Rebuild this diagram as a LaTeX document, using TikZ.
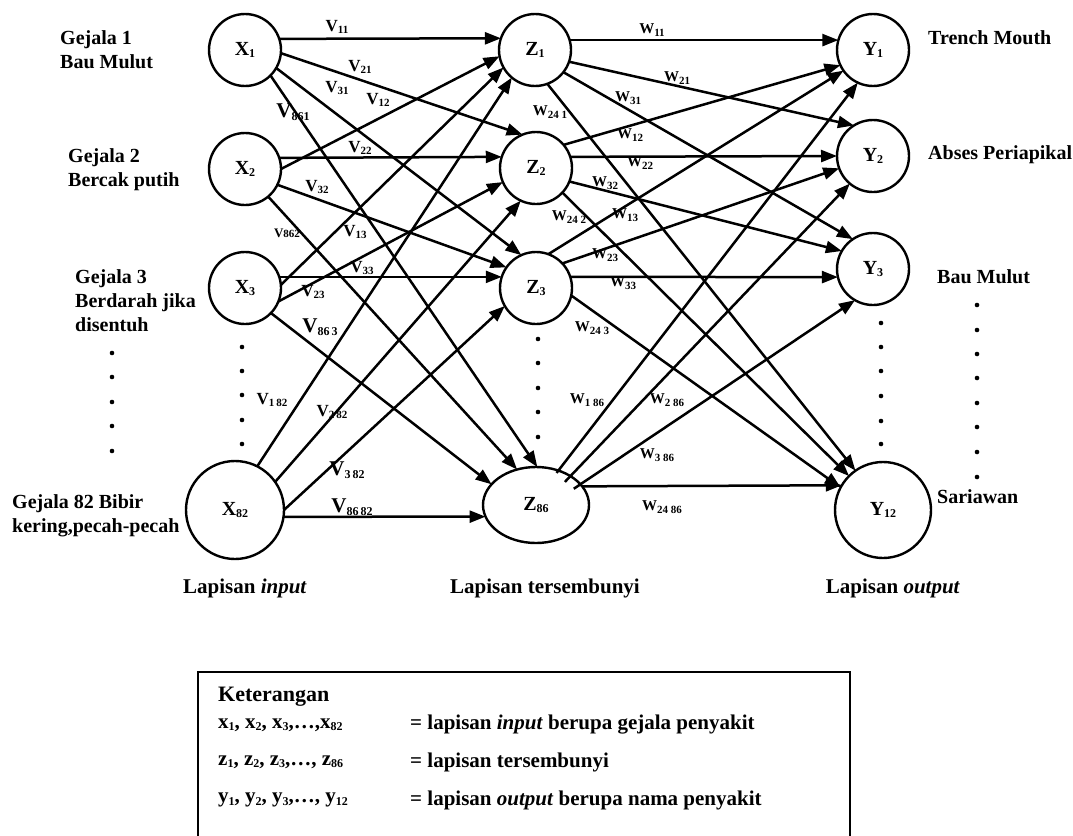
\documentclass[tikz,border=0pt]{standalone}
\usepackage{fontspec}
\setmainfont{Liberation Serif}
\usetikzlibrary{arrows.meta,shapes.geometric}

% font size helper and lowered subscript
\newcommand\fs[1]{\fontsize{#1}{#1}\selectfont}
\newcommand\sub[2][11]{\raisebox{-2.5pt}{\fs{#1}#2}}
% weight labels: small V, large V, W
\newcommand\sv[1]{{\fs{17}V}\sub{#1}}
\newcommand\bv[1]{{\fs{21}V}\sub[12]{#1}}
\newcommand\ww[1]{{\fs{15}W}\sub{#1}}

\begin{document}
\begin{tikzpicture}[x=1pt,y=-1pt,
  neuron/.style={circle,draw,line width=2.4pt,inner sep=0pt,outer sep=0pt,
                 minimum size=72pt,font=\bfseries\fs{20}},
  conn/.style={-{Triangle[length=16pt,width=12pt]},line width=2.5pt},
  wt/.style={inner sep=0pt,font=\bfseries},
  lbl/.style={inner sep=0pt,anchor=west,align=left,
              font=\bfseries\fontsize{20}{24}\selectfont},
  layer/.style={inner sep=0pt,font=\bfseries\fs{21}},
  leg/.style={inner sep=0pt,anchor=west,font=\bfseries\fs{21}},
  dot/.style={fill=black}]
\useasboundingbox (0,0) rectangle (1073,835);

% ---------- neurons ----------
\node[neuron] (x1) at (245,50) {X\sub[12]{1}};
\node[neuron] (x2) at (245,169) {X\sub[12]{2}};
\node[neuron] (x3) at (245,288) {X\sub[12]{3}};
\node[neuron,minimum size=98pt] (x82) at (235,510) {X\sub[12]{82}};

\node[neuron] (z1) at (535,50) {Z\sub[12]{1}};
\node[neuron] (z2) at (536,168) {Z\sub[12]{2}};
\node[neuron] (z3) at (536,288) {Z\sub[12]{3}};
\node[ellipse,draw,line width=2.4pt,inner sep=0pt,outer sep=0pt,
      minimum width=106pt,minimum height=76pt,font=\bfseries\fs{20}]
      (z86) at (536,505) {Z\sub[12]{86}};

\node[neuron] (y1) at (873,50) {Y\sub[12]{1}};
\node[neuron] (y2) at (873,156) {Y\sub[12]{2}};
\node[neuron] (y3) at (873,269) {Y\sub[12]{3}};
\node[neuron,minimum size=96pt] (y12) at (883,510) {Y\sub[12]{12}};

% ---------- input -> hidden ----------
\draw[conn] (x1.18)  -- (z1.161);
\draw[conn] (x1.-5)  -- (z2.112);
\draw[conn] (x1.-30) -- (z3.114);
\draw[conn] (x1.-45) -- (z86.88);
\draw[conn] (x2.0)   -- (z1.190);
\draw[conn] (x2.18)  -- (z2.162);
\draw[conn] (x2.-26) -- (z3.145);
\draw[conn] (x2.-50) -- (z86.118);
\draw[conn] (x3.5)   -- (z1.209);
\draw[conn] (x3.-22) -- (z2.203);
\draw[conn] (x3.18)  -- (z3.162);
\draw[conn] (x3.-44) -- (z86.155);
\draw[conn] (x82.63) -- (z1.230);
\draw[conn] (x82.35) -- (z2.245);
\draw[conn] (x82.0)  -- (z3.210);
\draw[conn] (x82.-8) -- (z86.193);

% ---------- hidden -> output ----------
\draw[conn] (z1.16)  -- (y1.164);
\draw[conn] (z1.-19) -- (y2.122);
\draw[conn] (z1.-38) -- (y3.124);
\draw[conn] (z1.-70) -- (y12.125);
\draw[conn] (z2.40)  -- (y1.205);
\draw[conn] (z2.18)  -- (y2.180);
\draw[conn] (z2.-22) -- (y3.150);
\draw[conn] (z2.-43) -- (y12.135);
\draw[conn] (z3.70)  -- (y1.215);
\draw[conn] (z3.43)  -- (y2.200);
\draw[conn] (z3.18)  -- (y3.193);
\draw[conn] (z3.-12) -- (y12.152);
\draw[conn,shorten <=-3pt] (z86.57) -- (y1.245);
\draw[conn,shorten <=-8pt] (z86.40) -- (y2.230);
\draw[conn,shorten <=-8pt] (z86.25) -- (y3.240);
\draw[conn] (z86.22) -- (y12.149);

% ---------- weight labels v ----------
\node[wt] (v11)  at (337,27)  {\sv{11}};
\node[wt] (v21)  at (360,67)  {\sv{21}};
\node[wt] (v31)  at (337,88)  {\sv{31}};
\node[wt] (v12)  at (378,100) {\sv{12}};
\node[wt] (v861) at (293,112) {\bv{861}};
\node[wt] (v22)  at (360,148) {\sv{22}};
\node[wt] (v32)  at (317,187) {\sv{32}};
\node[wt] (v862) at (287,233) {{\fs{13}V}{\fs{11}862}};
\node[wt] (v13)  at (355,232) {\sv{13}};
\node[wt] (v33)  at (362,268) {\sv{33}};
\node[wt] (v23)  at (313,292) {\sv{23}};
\node[wt] (v863) at (320,327) {\bv{86\,3}};
\node[wt] (v182) at (272,400) {\sv{1\,82}};
\node[wt] (v282) at (332,412) {\sv{2\,82}};
\node[wt] (v382) at (347,470) {\bv{3\,82}};
\node[wt] (v8682) at (352,507) {\bv{86\,82}};

% ---------- weight labels w ----------
\node[wt] (w11)  at (652,30)  {\ww{11}};
\node[wt] (w21)  at (677,78)  {\ww{21}};
\node[wt] (w31)  at (628,98)  {\ww{31}};
\node[wt] (w241) at (550,112) {\ww{24\ 1}};
\node[wt] (w12)  at (630,135) {\ww{12}};
\node[wt] (w22)  at (640,163) {\ww{22}};
\node[wt] (w32)  at (605,183) {\ww{32}};
\node[wt] (w242) at (569,217) {\ww{24\ 2}};
\node[wt] (w13)  at (625,215) {\ww{13}};
\node[wt] (w23)  at (605,255) {\ww{23}};
\node[wt] (w33)  at (623,283) {\ww{33}};
\node[wt] (w243) at (592,328) {\ww{24\ 3}};
\node[wt] (w186) at (587,400) {\ww{1\ 86}};
\node[wt] (w286) at (667,400) {\ww{2\ 86}};
\node[wt] (w386) at (657,455) {\ww{3\ 86}};
\node[wt] (w2486) at (662,507) {\ww{24\ 86}};

% ---------- symptom and disease labels ----------
\node[lbl] (g1)  at (60,50)  {Gejala 1\\Bau Mulut};
\node[lbl] (g2)  at (68,170) {Gejala 2\\Bercak putih};
\node[lbl] (g3)  at (75,301) {Gejala 3\\Berdarah jika\\disentuh};
\node[lbl] (g82) at (12,516) {Gejala 82 Bibir\\kering,pecah-pecah};

\node[lbl] (d1)  at (928,38)  {Trench Mouth};
\node[lbl] (d2)  at (928,155) {Abses Periapikal};
\node[lbl] (d3)  at (937,277) {Bau Mulut};
\node[lbl] (d12) at (937,497) {Sariawan};

% ---------- ellipsis dots ----------
\foreach \y in {353,377,402,426,451} \fill[dot] (112,\y) circle (2.3);
\foreach \y in {347,371,395,420,444} \fill[dot] (242,\y) circle (2.3);
\foreach \y in {339,363,388,412,437} \fill[dot] (538,\y) circle (2.3);
\foreach \y in {323,347,371,396,421,444} \fill[dot] (881,\y) circle (2.3);
\foreach \y in {305,330,354,378,403,427,452,477} \fill[dot] (977,\y) circle (2.3);

% ---------- layer names ----------
\node[layer] (lin)  at (245,588) {Lapisan \textit{input}};
\node[layer] (lhid) at (545,588) {Lapisan tersembunyi};
\node[layer] (lout) at (893,588) {Lapisan \textit{output}};

% ---------- legend ----------
\draw[line width=2.4pt] (198,840) |- (850,672) -- (850,840);
\node[leg,font=\bfseries\fs{22}] (kt) at (218,697) {Keterangan};
\node[leg] (kx) at (218,725) {x\sub[12]{1}, x\sub[12]{2}, x\sub[12]{3},\dots,x\sub[12]{82}};
\node[leg] (ky) at (218,762) {z\sub[12]{1}, z\sub[12]{2}, z\sub[12]{3},\dots, z\sub[12]{86}};
\node[leg] (kz) at (218,800) {y\sub[12]{1}, y\sub[12]{2}, y\sub[12]{3},\dots, y\sub[12]{12}};
\node[leg] (ex) at (410,725) {= lapisan \textit{input} berupa gejala penyakit};
\node[leg] (ey) at (410,762) {= lapisan tersembunyi};
\node[leg] (ez) at (410,800) {= lapisan \textit{output} berupa nama penyakit};
\end{tikzpicture}
\end{document}
